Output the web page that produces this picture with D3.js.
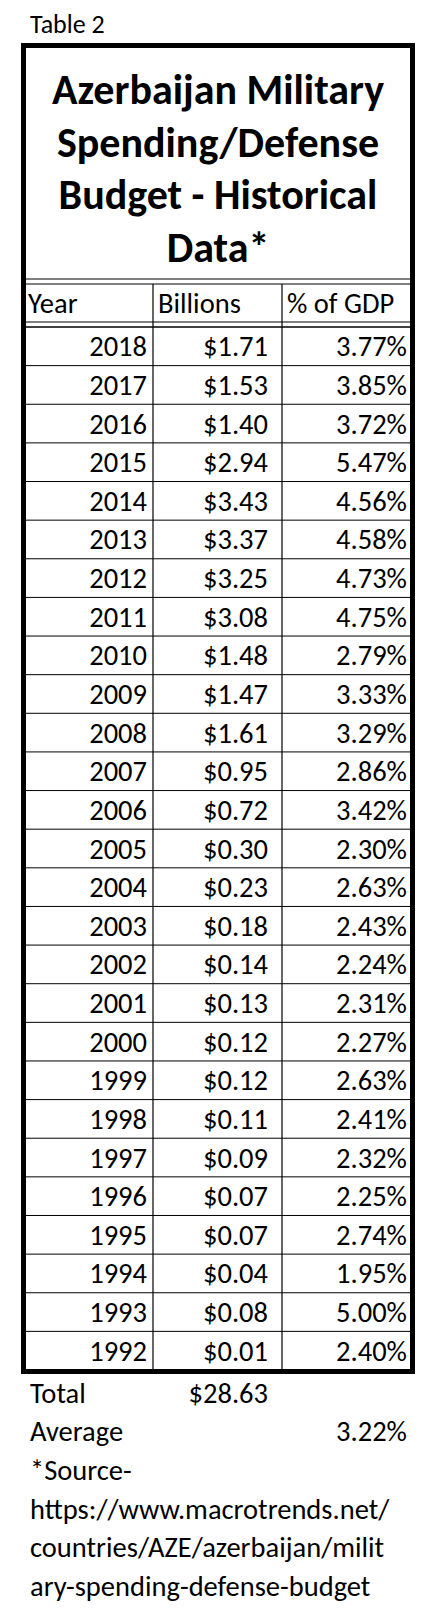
<!DOCTYPE html>
<html><head><meta charset="utf-8">
<script src="https://cdn.jsdelivr.net/npm/d3@7"></script>
<style>body{margin:0;background:#fff}</style>
</head><body>
<svg id="t" width="432" height="1624"></svg>
<script>
const years = [2018,2017,2016,2015,2014,2013,2012,2011,2010,2009,2008,2007,2006,2005,2004,2003,2002,2001,2000,1999,1998,1997,1996,1995,1994,1993,1992];
const billions = [1.71,1.53,1.40,2.94,3.43,3.37,3.25,3.08,1.48,1.47,1.61,0.95,0.72,0.30,0.23,0.18,0.14,0.13,0.12,0.12,0.11,0.09,0.07,0.07,0.04,0.08,0.01];
const pctGdp = [3.77,3.85,3.72,5.47,4.56,4.58,4.73,4.75,2.79,3.33,3.29,2.86,3.42,2.30,2.63,2.43,2.24,2.31,2.27,2.63,2.41,2.32,2.25,2.74,1.95,5.00,2.40];
const headers = ['Year', 'Billions', '% of GDP'];
const titleLines = ['Azerbaijan Military', 'Spending/Defense', 'Budget - Historical', 'Data*'];
const footLines = ['*Source-', 'https://www.macrotrends.net/', 'countries/AZE/azerbaijan/milit', 'ary-spending-defense-budget'];
const total = '$28.63', average = '3.22%';

const svg = d3.select('#t');
const font = 'Carlito, Lato, "Open Sans", sans-serif';
const fs = 28.5;
const L = 23, R = 413, colX = [23, 153, 282, 413];

const y = d3.scaleBand().domain(years).range([327, 1370]);

// title lines
svg.append('text').attr('x', 30).attr('y', 33).attr('font-family', font).attr('font-size', 26).text('Table 2');
svg.selectAll('.title').data(titleLines).join('text')
  .attr('x', 218).attr('y', (d, i) => 104 + i * 52.5)
  .attr('text-anchor', 'middle').attr('font-family', font).attr('font-weight', 'bold')
  .attr('font-size', 42).text(d => d);

// header
const hdr = svg.append('g');
hdr.selectAll('text').data(headers).join('text')
  .attr('x', (d, i) => colX[i] + 5).attr('y', 313)
  .attr('font-family', font).attr('font-size', fs).text(d => d);

// rows
const rows = svg.append('g').selectAll('g').data(years).join('g')
  .attr('transform', d => `translate(0,${y(d) + y.bandwidth() / 2 + 10})`)
  .attr('font-family', font).attr('font-size', fs).attr('text-anchor', 'end');
rows.append('text').attr('x', 147).text(d => d);
rows.append('text').attr('x', 268).text((d, i) => '$' + billions[i].toFixed(2));
rows.append('text').attr('x', 407).text((d, i) => pctGdp[i].toFixed(2) + '%');

// grid lines
const g = svg.append('g').attr('stroke', '#000').attr('fill', 'none');
years.forEach(d => g.append('line').attr('x1', L).attr('x2', R).attr('y1', y(d)).attr('y2', y(d)).attr('stroke-width', 1));
[279, 284, 322, 327].forEach(v => g.append('line').attr('x1', L).attr('x2', R).attr('y1', v).attr('y2', v).attr('stroke-width', 1.2));
[colX[1], colX[2]].forEach(v => g.append('line').attr('x1', v).attr('x2', v).attr('y1', 284).attr('y2', 1370).attr('stroke-width', 1.2));
g.append('rect').attr('x', 23.5).attr('y', 45.5).attr('width', 389).attr('height', 1326).attr('stroke-width', 5);

// footer
const ft = svg.append('g').attr('font-family', font).attr('font-size', fs);
ft.append('text').attr('x', 30).attr('y', 1403).text('Total');
ft.append('text').attr('x', 268).attr('y', 1403).attr('text-anchor', 'end').text(total);
ft.append('text').attr('x', 30).attr('y', 1441).text('Average');
ft.append('text').attr('x', 407).attr('y', 1441).attr('text-anchor', 'end').text(average);
ft.selectAll('.f').data(footLines).join('text')
  .attr('x', 30).attr('y', (d, i) => 1480 + i * 38.5).text(d => d);
</script>
</body></html>
